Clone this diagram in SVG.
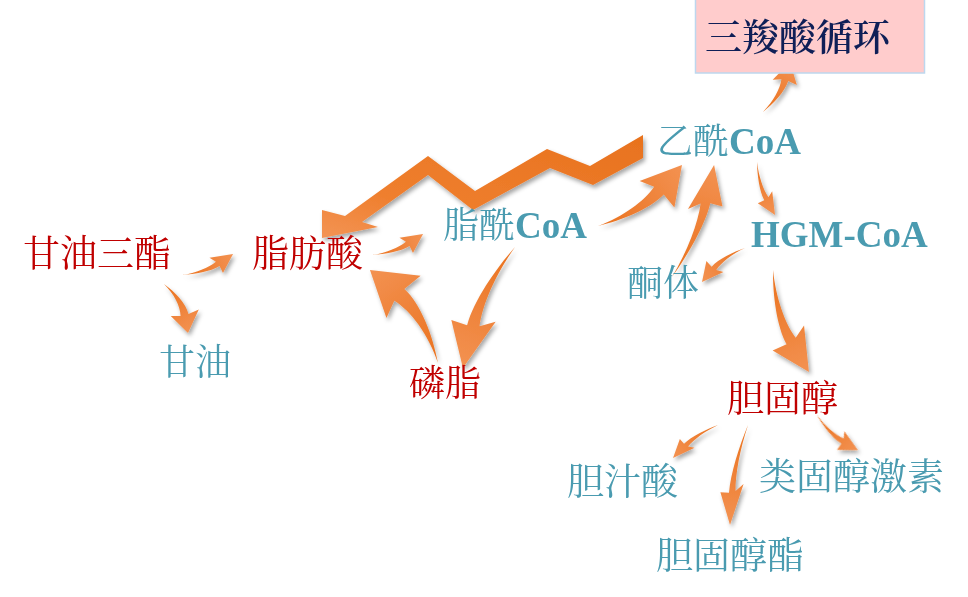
<svg xmlns="http://www.w3.org/2000/svg" xmlns:xlink="http://www.w3.org/1999/xlink" width="968" height="597" viewBox="0 0 968 597">
<style>
.cjk{font-family:'Noto Serif CJK SC','Noto Sans CJK SC','Liberation Serif',serif;}
.lat{font-family:'Liberation Serif',serif;font-weight:bold;}
.red{fill:#C00000;}
.teal{fill:#4A9BB0;}
.navy{fill:#0F1F57;font-weight:600;}
.arr{fill:url(#og);}
</style>
<defs>
<linearGradient id="og" x1="0" y1="0" x2="1" y2="0">
<stop offset="0" stop-color="#EA711D"/>
<stop offset="1" stop-color="#F39252"/>
</linearGradient>
<linearGradient id="zg" x1="1" y1="0" x2="0" y2="1">
<stop offset="0" stop-color="#E8721E"/>
<stop offset="0.7" stop-color="#EF7F2E"/>
<stop offset="1" stop-color="#F39455"/>
</linearGradient>
<filter id="sh" x="-10%" y="-10%" width="130%" height="130%">
<feDropShadow dx="2" dy="3" stdDeviation="2" flood-color="#000" flood-opacity="0.35"/>
</filter>
<path id="sw" d="M0,0 C25,6 50,6 66,1 L58,-10 L100,0 L70,25 L69,11 C50,14 22,8 0,0 Z"/>
</defs>
<rect width="968" height="597" fill="#FFFFFF"/>

<g id="connectors" filter="url(#sh)">
<path fill="url(#zg)" d="M643,135 L590,166 L547,149 L475,191 L428,156 L345,216 L322,210 L322,238 L378,227 L362,222 L428,175 L473,210 L550,168 L593,185 L643,158 Z"/>
<use class="arr" xlink:href="#sw" href="#sw" transform="translate(182,275) rotate(-22.4) scale(0.552,0.552)"/>
<use class="arr" xlink:href="#sw" href="#sw" transform="translate(164,284) rotate(63.9) scale(0.546,-0.8)"/>
<use class="arr" xlink:href="#sw" href="#sw" transform="translate(372,255) rotate(-22.4) scale(0.552,0.552)"/>
<use class="arr" xlink:href="#sw" href="#sw" transform="translate(438,363) rotate(-126.2) scale(1.152,1.5)"/>
<use class="arr" xlink:href="#sw" href="#sw" transform="translate(515,247) rotate(113.3) scale(1.317,1.185)"/>
<use class="arr" xlink:href="#sw" href="#sw" transform="translate(598,226) rotate(-36) scale(1.038,1.2)"/>
<use class="arr" xlink:href="#sw" href="#sw" transform="translate(672,277) rotate(-69.4) scale(1.196,0.9)"/>
<use class="arr" xlink:href="#sw" href="#sw" transform="translate(763,112) rotate(-61.6) scale(0.568,0.68)"/>
<use class="arr" xlink:href="#sw" href="#sw" transform="translate(757,162) rotate(71.2) scale(0.56,0.5)"/>
<use class="arr" xlink:href="#sw" href="#sw" transform="translate(745,248) rotate(141.7) scale(0.548,0.548)"/>
<use class="arr" xlink:href="#sw" href="#sw" transform="translate(773,270) rotate(70.6) scale(1.082,1.082)"/>
<use class="arr" xlink:href="#sw" href="#sw" transform="translate(718,425) rotate(143.7) scale(0.558,0.45)"/>
<use class="arr" xlink:href="#sw" href="#sw" transform="translate(748,425) rotate(100.2) scale(1.016,0.61)"/>
<use class="arr" xlink:href="#sw" href="#sw" transform="translate(817,415) rotate(40.5) scale(0.54,0.54)"/>
</g>

<g id="tca">
<rect x="695.5" y="-1" width="229" height="74" fill="#FFCCCC" stroke="#BDD7EE" stroke-width="1.5"/>
<text class="cjk navy" x="705" y="51" font-size="37">三羧酸循环</text>
</g>
<g id="triglyceride"><text class="cjk red" x="23" y="267" font-size="37">甘油三酯</text></g>
<g id="fattyacid"><text class="cjk red" x="252" y="267" font-size="37">脂肪酸</text></g>
<g id="glycerol"><text class="cjk teal" x="159" y="375" font-size="36">甘油</text></g>
<g id="phospholipid"><text class="cjk red" x="409" y="396" font-size="36">磷脂</text></g>
<g id="acylcoa"><text class="teal" x="443" y="238"><tspan class="cjk" font-size="36">脂酰</tspan><tspan class="lat" font-size="37">CoA</tspan></text></g>
<g id="acetylcoa"><text class="teal" x="657" y="154"><tspan class="cjk" font-size="36">乙酰</tspan><tspan class="lat" font-size="37">CoA</tspan></text></g>
<g id="hgmcoa"><text class="lat teal" x="751" y="247" font-size="37">HGM-CoA</text></g>
<g id="ketone"><text class="cjk teal" x="627" y="296" font-size="36">酮体</text></g>
<g id="cholesterol"><text class="cjk red" x="727" y="412" font-size="37">胆固醇</text></g>
<g id="bileacid"><text class="cjk teal" x="567" y="495" font-size="37">胆汁酸</text></g>
<g id="steroid"><text class="cjk teal" x="759" y="490" font-size="37">类固醇激素</text></g>
<g id="cholesterylester"><text class="cjk teal" x="656" y="569" font-size="37">胆固醇酯</text></g>
</svg>
